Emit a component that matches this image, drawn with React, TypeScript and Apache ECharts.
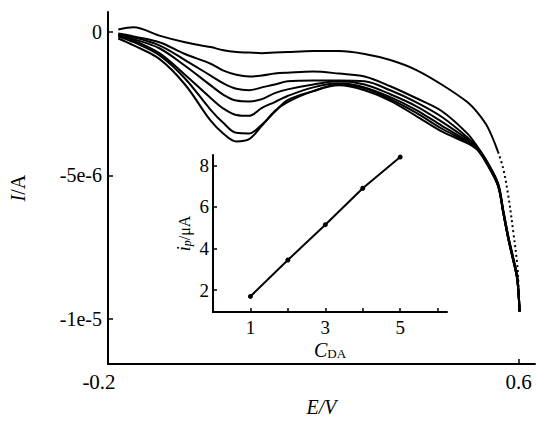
import React, { useEffect, useRef } from 'react';
import * as echarts from 'echarts';

// Potential grid (V) shared by all voltammograms
const potentials = [-0.18, -0.15, -0.1, -0.05, 0, 0.025, 0.05, 0.075, 0.1, 0.125, 0.15, 0.2, 0.25, 0.3, 0.35, 0.4, 0.45, 0.5, 0.52, 0.54, 0.56, 0.57, 0.58, 0.59, 0.597, 0.6, 0.602];
// Currents in μA
const currentBlank = [0.07, 0.15, -0.14, -0.37, -0.54, -0.65, -0.71, -0.73, -0.75, -0.73, -0.71, -0.68, -0.68, -0.78, -0.99, -1.33, -1.84, -2.45, -2.82, -3.33, -4.18, -4.76, -5.71, -7.01, -8.03, -8.84, -9.73];
const current1 = [-0.07, -0.17, -0.37, -0.78, -1.12, -1.36, -1.50, -1.56, -1.53, -1.46, -1.43, -1.39, -1.46, -1.56, -1.90, -2.31, -2.76, -3.54, -4.01, -4.56, -5.27, -6.19, -7.11, -7.89, -8.47, -9.08, -9.73];
const current2 = [-0.10, -0.20, -0.48, -0.99, -1.53, -1.80, -1.99, -2.04, -1.94, -1.84, -1.73, -1.70, -1.70, -1.73, -2.04, -2.45, -2.96, -3.67, -4.05, -4.59, -5.31, -6.22, -7.14, -7.93, -8.50, -9.12, -9.73];
const current3 = [-0.14, -0.27, -0.58, -1.19, -1.87, -2.20, -2.40, -2.43, -2.35, -2.14, -2.01, -1.84, -1.73, -1.84, -2.18, -2.59, -3.13, -3.74, -4.05, -4.59, -5.34, -6.26, -7.18, -7.96, -8.54, -9.12, -9.73];
const current4 = [-0.14, -0.31, -0.75, -1.50, -2.31, -2.68, -2.90, -2.93, -2.65, -2.45, -2.24, -1.94, -1.80, -1.94, -2.28, -2.72, -3.27, -3.81, -4.08, -4.63, -5.34, -6.26, -7.18, -7.96, -8.54, -9.12, -9.73];
const current5 = [-0.17, -0.37, -0.82, -1.63, -2.72, -3.18, -3.52, -3.54, -3.23, -2.79, -2.38, -2.07, -1.84, -1.97, -2.35, -2.82, -3.37, -3.84, -4.08, -4.63, -5.37, -6.29, -7.21, -7.99, -8.57, -9.15, -9.73];
const current6 = [-0.24, -0.48, -0.95, -1.84, -3.10, -3.55, -3.82, -3.74, -3.27, -2.76, -2.45, -2.07, -1.87, -2.04, -2.41, -2.93, -3.47, -3.88, -4.12, -4.66, -5.37, -6.29, -7.21, -7.99, -8.57, -9.15, -9.73];
const blankDottedFrom = 20;

// Main axis ticks
const mainXTicks = [-0.2, 0.6];
const mainXTickMarks = [0.6];
const mainYTicks = [0, -5, -10];
const mainYTickLabels = ['0', '-5e-6', '-1e-5'];

// Inset calibration
const concentrations = [1, 2, 3, 4, 5];
const peakCurrents = [1.7, 3.45, 5.15, 6.9, 8.4];
const insetXTicks = [1, 2, 3, 4, 5, 6];
const insetXLabels = [1, 3, 5];
const insetYTicks = [2, 4, 6, 8];

const FONT = 'Liberation Serif';

export default function App() {
  const ref = useRef<HTMLDivElement>(null);
  useEffect(() => {
    document.body.style.margin = '0';
    if (!ref.current) return;
    const chart = echarts.init(ref.current, null, { renderer: 'svg' });
    const pair = (ys: number[]) => potentials.map((x, i) => [x, ys[i]]);
    const curveSeries = [current1, current2, current3, current4, current5, current6].map((c) => ({
      type: 'line',
      xAxisIndex: 0,
      yAxisIndex: 0,
      data: pair(c),
      smooth: 0.35,
      showSymbol: false,
      lineStyle: { color: '#000', width: 2 },
    }));
    const blank = pair(currentBlank);
    const axisLine = { onZero: false, lineStyle: { color: '#000', width: 2 } };
    const option: any = {
      animation: false,
      backgroundColor: '#fff',
      textStyle: { fontFamily: FONT },
      grid: [
        { left: 98, top: 12, width: 437, height: 360 },
        { left: 213, top: 155, width: 234, height: 157 },
      ],
      xAxis: [
        {
          type: 'value',
          gridIndex: 0,
          min: -0.2,
          max: 0.632,
          name: 'E/V',
          nameLocation: 'middle',
          nameGap: 32,
          nameTextStyle: { fontFamily: FONT, fontStyle: 'italic', fontSize: 20, color: '#000' },
          axisLine,
          axisTick: { inside: true, length: 5, customValues: mainXTickMarks, lineStyle: { color: '#000', width: 1.5 } },
          axisLabel: {
            customValues: mainXTicks,
            margin: 7,
            color: '#000',
            fontSize: 21,
            fontFamily: FONT,
            formatter: (v: number) => (v === mainXTicks[0] ? `{m|${v}}` : String(v)),
            rich: {
              m: { fontFamily: FONT, fontSize: 21, color: '#000', padding: [0, 18, 0, 0] },
            },
          },
          splitLine: { show: false },
        },
        {
          type: 'value',
          gridIndex: 1,
          min: 0,
          max: 6.25,
          name: '{i|C}{s|DA}',
          nameLocation: 'middle',
          nameGap: 27,
          nameTextStyle: {
            fontFamily: FONT,
            rich: {
              i: { fontFamily: FONT, fontStyle: 'italic', fontSize: 20, color: '#000' },
              s: { fontFamily: FONT, fontSize: 13, color: '#000', padding: [8, 0, 0, 0] },
            },
          },
          axisLine,
          axisTick: { inside: true, length: 4, customValues: insetXTicks, lineStyle: { color: '#000', width: 1.5 } },
          axisLabel: {
            customValues: insetXLabels,
            margin: 6,
            color: '#000',
            fontSize: 19,
            fontFamily: FONT,
          },
          splitLine: { show: false },
        },
      ],
      yAxis: [
        {
          type: 'value',
          gridIndex: 0,
          min: -11.56,
          max: 0.68,
          name: '{i|I}{n|/A}',
          nameLocation: 'middle',
          nameGap: 80,
          nameRotate: 90,
          nameTextStyle: {
            fontFamily: FONT,
            rich: {
              i: { fontFamily: FONT, fontStyle: 'italic', fontSize: 20, color: '#000' },
              n: { fontFamily: FONT, fontSize: 20, color: '#000' },
            },
          },
          axisLine,
          axisTick: { inside: true, length: 5, customValues: mainYTicks, lineStyle: { color: '#000', width: 1.5 } },
          axisLabel: {
            customValues: mainYTicks,
            margin: 6,
            color: '#000',
            fontSize: 20,
            fontFamily: FONT,
            formatter: (v: number) => {
              const idx = mainYTicks.findIndex((t) => Math.abs(t - v) < 1e-9);
              return idx >= 0 ? mainYTickLabels[idx] : '';
            },
          },
          splitLine: { show: false },
        },
        {
          type: 'value',
          gridIndex: 1,
          min: 0.95,
          max: 8.5,
          name: '{i|i}{s|p}{n|/μA}',
          nameLocation: 'middle',
          nameGap: 20,
          nameRotate: 90,
          nameTextStyle: {
            fontFamily: FONT,
            rich: {
              i: { fontFamily: FONT, fontStyle: 'italic', fontSize: 18, color: '#000' },
              s: { fontFamily: FONT, fontStyle: 'italic', fontSize: 12, color: '#000', padding: [6, 0, 0, 0] },
              n: { fontFamily: FONT, fontSize: 16, color: '#000' },
            },
          },
          axisLine,
          axisTick: { inside: true, length: 4, customValues: insetYTicks, lineStyle: { color: '#000', width: 1.5 } },
          axisLabel: {
            customValues: insetYTicks,
            margin: 4,
            color: '#000',
            fontSize: 19,
            fontFamily: FONT,
          },
          splitLine: { show: false },
        },
      ],
      series: [
        {
          type: 'line',
          xAxisIndex: 0,
          yAxisIndex: 0,
          data: blank.slice(0, blankDottedFrom + 1),
          smooth: 0.35,
          showSymbol: false,
          lineStyle: { color: '#000', width: 2 },
        },
        {
          type: 'line',
          xAxisIndex: 0,
          yAxisIndex: 0,
          data: blank.slice(blankDottedFrom),
          smooth: 0.35,
          showSymbol: false,
          lineStyle: { color: '#000', width: 2, type: [2, 3] },
        },
        ...curveSeries,
        {
          type: 'line',
          xAxisIndex: 1,
          yAxisIndex: 1,
          data: concentrations.map((c, i) => [c, peakCurrents[i]]),
          symbol: 'circle',
          symbolSize: 5,
          itemStyle: { color: '#000' },
          lineStyle: { color: '#000', width: 2 },
        },
      ],
    };
    chart.setOption(option);
    return () => chart.dispose();
  }, []);
  return <div ref={ref} style={{ width: 536, height: 422 }} />;
}
